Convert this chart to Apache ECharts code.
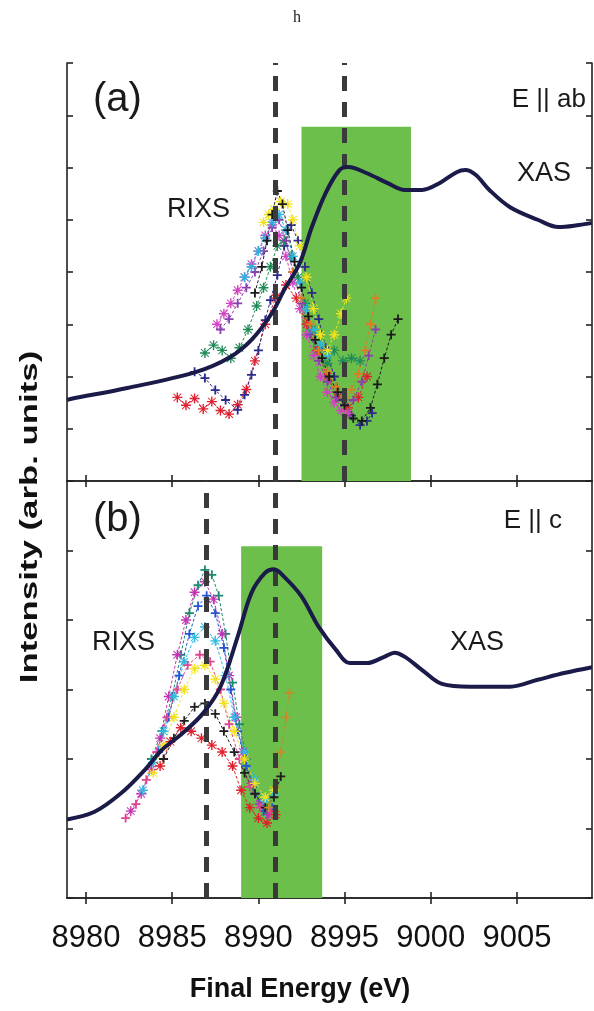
<!DOCTYPE html>
<html><head><meta charset="utf-8">
<script src="https://cdn.jsdelivr.net/npm/echarts@6/dist/echarts.min.js"></script>
<style>html,body{margin:0;padding:0;background:#fff}#c{width:594px;height:1011px}</style>
</head><body><div id="c"></div>
<script>
// ---------- DATA ----------
const xTicks = [8980, 8985, 8990, 8995, 9000, 9005];
const dashedA = [8991, 8995];
const dashedB = [8987, 8991];
const bandA = [8992.5, 8998.85, 6.78];
const bandB = [8989.0, 8993.7, 5.06];

// XAS (E || ab), panel a
const xasA = [[8978.9,1.55],[8979.1,1.57],[8982.4,1.78],[8986.4,2.09],[8988.35,2.37],[8989.6,2.70],[8990.8,3.22],[8991.5,3.66],[8992.4,4.17],[8993.1,4.86],[8993.9,5.51],[8994.7,5.95],[8995.2,6.01],[8996.3,5.89],[8997.5,5.70],[8998.5,5.57],[8999.5,5.57],[9000.5,5.70],[9001.5,5.91],[9002.0,5.95],[9002.6,5.86],[9003.4,5.57],[9004.6,5.24],[9006.2,5.00],[9007.4,4.86],[9008.6,4.90],[9009.35,4.94]];
// XAS (E || c), panel b
const xasB = [[8978.9,1.13],[8980.5,1.24],[8982.05,1.51],[8983.4,1.84],[8984.4,2.13],[8985.6,2.37],[8986.8,2.66],[8987.8,3.04],[8988.8,3.76],[8989.6,4.39],[8990.4,4.68],[8990.9,4.73],[8991.5,4.62],[8992.5,4.34],[8993.5,3.90],[8994.5,3.57],[8995.3,3.38],[8996.3,3.38],[8997.3,3.47],[8997.9,3.53],[8998.5,3.47],[8999.5,3.28],[9000.65,3.08],[9002.3,3.04],[9004.6,3.04],[9006.2,3.14],[9007.8,3.24],[9009.35,3.32]];

// RIXS traces, panel a
const rixsA_red = [[8985.3,1.60],[8985.8,1.45],[8986.3,1.58],[8986.8,1.38],[8987.3,1.52],[8987.8,1.35],[8988.3,1.28],[8988.8,1.46],[8989.3,1.75],[8989.8,2.3],[8990.4,3.0],[8991.0,3.5],[8991.6,3.75],[8992.2,3.5],[8992.8,3.0],[8993.4,2.5],[8994.0,2.0],[8994.6,1.6],[8995.2,1.4],[8995.8,1.6],[8996.3,2.0]];
const rixsA_navy = [[8986.3,2.09],[8986.9,1.97],[8987.5,1.74],[8988.1,1.55],[8988.8,1.36],[8989.2,1.65],[8989.6,2.03],[8990.0,2.5],[8990.4,3.08],[8990.7,3.46],[8991.1,3.94],[8991.5,4.5],[8991.9,4.9],[8992.3,4.6],[8992.7,4.1],[8993.1,3.6],[8993.5,3.1],[8993.9,2.55],[8994.4,2.0],[8994.9,1.55],[8995.4,1.25],[8995.9,1.07],[8996.3,1.15],[8996.6,1.3]];
const rixsA_green = [[8986.9,2.45],[8987.4,2.6],[8987.9,2.5],[8988.4,2.35],[8988.9,2.55],[8989.4,2.9],[8989.9,3.35],[8990.3,3.7],[8990.7,4.1],[8991.1,4.5],[8991.5,4.6],[8991.9,4.3],[8992.3,3.9],[8992.7,3.4],[8993.1,2.9],[8993.5,2.5],[8994.0,2.25],[8994.4,2.5],[8994.9,2.3],[8995.4,2.35],[8995.9,2.3]];
const rixsA_magenta = [[8987.6,3.0],[8988.0,3.2],[8988.4,3.4],[8988.8,3.65],[8989.2,3.9],[8989.6,4.15],[8990.0,4.4],[8990.4,4.7],[8990.8,4.9],[8991.2,4.7],[8991.6,4.3],[8992.0,3.8],[8992.4,3.3],[8992.8,2.8],[8993.2,2.4],[8993.6,2.0],[8994.0,1.7],[8994.4,1.5],[8994.8,1.35],[8995.2,1.3]];
const rixsA_purple = [[8987.8,2.9],[8988.3,3.1],[8988.8,3.4],[8989.3,3.7],[8989.8,4.0],[8990.3,4.4],[8990.8,4.85],[8991.2,5.0],[8991.6,4.6],[8992.0,4.0],[8992.5,3.4],[8993.0,2.8],[8993.5,2.3],[8994.0,1.9],[8994.5,1.6],[8995.0,1.45],[8995.5,1.55],[8996.0,1.9],[8996.4,2.4],[8996.8,2.9]];
const rixsA_cyan = [[8989.2,3.9],[8989.6,4.1],[8990.0,4.4],[8990.4,4.65],[8990.8,4.95],[8991.2,5.1],[8991.6,4.8],[8992.0,4.3],[8992.4,3.8],[8992.8,3.3],[8993.2,2.9],[8993.6,2.6],[8994.0,2.4]];
const rixsA_yellow = [[8990.3,4.95],[8990.6,5.1],[8990.9,5.2],[8991.3,5.35],[8991.7,5.3],[8992.0,5.0],[8992.4,4.5],[8992.8,3.9],[8993.2,3.3],[8993.6,2.8],[8994.0,2.5],[8994.4,2.8],[8994.8,3.2],[8995.1,3.5]];
const rixsA_black = [[8989.8,3.6],[8990.2,4.1],[8990.5,4.6],[8990.8,5.1],[8991.1,5.55],[8991.4,5.3],[8991.7,4.8],[8992.1,4.2],[8992.5,3.7],[8992.9,3.15],[8993.3,2.7],[8993.7,2.35],[8994.1,2.0],[8994.6,1.7],[8995.0,1.45],[8995.5,1.2],[8996.0,1.15],[8996.5,1.4],[8996.9,1.85],[8997.3,2.35],[8997.7,2.8],[8998.1,3.1]];
const rixsA_orange = [[8992.0,4.0],[8992.5,3.5],[8993.0,3.0],[8993.5,2.5],[8994.0,2.1],[8994.5,1.8],[8995.0,1.6],[8995.4,1.75],[8995.8,2.05],[8996.2,2.5],[8996.5,3.0],[8996.8,3.5]];

// RIXS traces, panel b
const rixsB_teal = [[8983.8,2.0],[8984.4,2.4],[8985.0,2.9],[8985.5,3.5],[8986.0,4.1],[8986.5,4.5],[8986.9,4.72],[8987.3,4.65],[8987.7,4.35],[8988.1,3.8],[8988.5,3.1],[8988.9,2.5],[8989.3,2.0],[8989.7,1.6],[8990.1,1.35],[8990.5,1.22]];
const rixsB_magenta = [[8982.6,1.25],[8983.2,1.5],[8983.8,1.85],[8984.3,2.3],[8984.8,2.9],[8985.3,3.5],[8985.8,4.0],[8986.3,4.4],[8986.9,4.55],[8987.4,4.3],[8987.9,3.8],[8988.3,3.2],[8988.7,2.6],[8989.1,2.1],[8989.6,1.65],[8990.1,1.35],[8990.6,1.2]];
const rixsB_blue = [[8984.2,2.1],[8984.8,2.6],[8985.4,3.2],[8986.0,3.8],[8986.5,4.2],[8987.0,4.35],[8987.5,4.1],[8988.0,3.6],[8988.4,3.0],[8988.8,2.4],[8989.3,1.9],[8989.8,1.5],[8990.3,1.25],[8990.8,1.3]];
const rixsB_cyan = [[8983.3,1.55],[8983.9,1.95],[8984.5,2.4],[8985.1,2.9],[8985.7,3.4],[8986.3,3.75],[8986.9,3.9],[8987.5,3.7],[8988.1,3.2],[8988.6,2.6],[8989.2,2.1],[8989.8,1.7],[8990.4,1.4],[8990.9,1.5]];
const rixsB_pink = [[8982.3,1.15],[8982.9,1.35],[8983.5,1.7],[8984.1,2.1],[8984.7,2.6],[8985.3,3.0],[8985.9,3.35],[8986.6,3.5],[8987.2,3.4],[8987.8,3.0],[8988.3,2.5],[8988.9,2.0],[8989.5,1.6],[8990.1,1.3],[8990.7,1.25]];
const rixsB_yellow = [[8983.9,1.8],[8984.5,2.2],[8985.1,2.6],[8985.7,3.0],[8986.3,3.3],[8986.9,3.35],[8987.5,3.15],[8988.0,2.8],[8988.6,2.4],[8989.2,2.0],[8989.8,1.65],[8990.4,1.45],[8990.9,1.55]];
const rixsB_black = [[8984.5,2.0],[8985.1,2.3],[8985.7,2.55],[8986.3,2.75],[8986.9,2.8],[8987.5,2.65],[8988.0,2.4],[8988.6,2.1],[8989.2,1.8],[8989.8,1.5],[8990.4,1.3],[8990.9,1.45],[8991.3,1.75]];
const rixsB_red = [[8984.3,1.9],[8984.9,2.25],[8985.5,2.45],[8986.1,2.4],[8986.7,2.3],[8987.3,2.2],[8987.9,2.1],[8988.5,1.9],[8989.0,1.55],[8989.5,1.3],[8990.0,1.15],[8990.5,1.08],[8991.0,1.2]];
const rixsB_orange = [[8990.6,1.3],[8991.0,1.6],[8991.3,2.1],[8991.6,2.6],[8991.8,2.95]];

// ---------- CHART ----------
const PLUS = 'path://M4,0H6V10H4Z M0,4H10V6H0Z';
const STAR = 'path://M4.3,0H5.7V10H4.3Z M0,4.3H10V5.7H0Z M1.5,0.8L9.2,8.5L8.5,9.2L0.8,1.5Z M8.5,0.8L9.2,1.5L1.5,9.2L0.8,8.5Z';

function rixs(data, color, sym, g) {
  return {
    type: 'line', xAxisIndex: g, yAxisIndex: g, data: data,
    symbol: sym === '+' ? PLUS : STAR, symbolSize: sym === '+' ? 9 : 10,
    showSymbol: true, z: 3,
    itemStyle: { color: color },
    lineStyle: { color: color, width: 1, type: [3, 2] },
    silent: true
  };
}

const chart = echarts.init(document.getElementById('c'), null, { renderer: 'canvas' });
const frame = { show: true, lineStyle: { color: '#222', width: 1.6 } };
const tickIn = (show) => ({ show: show, inside: true, length: 6, lineStyle: { color: '#222', width: 1.6 } });
const xBase = { type: 'value', min: 8978.9, max: 9009.35, splitLine: { show: false }, axisLine: frame };

const option = {
  animation: false,
  backgroundColor: '#fff',
  grid: [
    { left: 67, right: 2, top: 63, height: 418 },
    { left: 67, right: 2, top: 481, height: 417 }
  ],
  xAxis: [
    Object.assign({}, xBase, { gridIndex: 0, position: 'bottom', axisTick: Object.assign(tickIn(true), { customValues: xTicks }), axisLabel: { show: false } }),
    Object.assign({}, xBase, { gridIndex: 1, position: 'bottom', axisTick: Object.assign(tickIn(true), { customValues: xTicks }),
      axisLabel: { show: true, customValues: xTicks, formatter: v => String(v), fontFamily: 'Liberation Sans', fontSize: 31, color: '#111', margin: 25 } }),
    Object.assign({}, xBase, { gridIndex: 0, position: 'top', axisTick: Object.assign(tickIn(true), { customValues: xTicks }), axisLabel: { show: false } }),
    Object.assign({}, xBase, { gridIndex: 1, position: 'top', axisTick: Object.assign(tickIn(true), { customValues: xTicks }), axisLabel: { show: false } })
  ],
  yAxis: [
    { type: 'value', gridIndex: 0, min: 0, max: 8, interval: 1, position: 'left', axisLine: frame, axisTick: tickIn(true), axisLabel: { show: false }, splitLine: { show: false } },
    { type: 'value', gridIndex: 1, min: 0, max: 6, interval: 1, position: 'left', axisLine: frame, axisTick: tickIn(true), axisLabel: { show: false }, splitLine: { show: false } },
    { type: 'value', gridIndex: 0, min: 0, max: 8, interval: 1, position: 'right', axisLine: frame, axisTick: tickIn(true), axisLabel: { show: false }, splitLine: { show: false } },
    { type: 'value', gridIndex: 1, min: 0, max: 6, interval: 1, position: 'right', axisLine: frame, axisTick: tickIn(true), axisLabel: { show: false }, splitLine: { show: false } }
  ],
  series: [
    { type: 'line', xAxisIndex: 0, yAxisIndex: 0, data: [], z: 1, silent: true,
      markArea: { silent: true, itemStyle: { color: '#6cbf4a', opacity: 1 }, data: [[{ xAxis: bandA[0], yAxis: 0 }, { xAxis: bandA[1], yAxis: bandA[2] }]] } },
    { type: 'line', xAxisIndex: 1, yAxisIndex: 1, data: [], z: 1, silent: true,
      markArea: { silent: true, itemStyle: { color: '#6cbf4a', opacity: 1 }, data: [[{ xAxis: bandB[0], yAxis: 0 }, { xAxis: bandB[1], yAxis: bandB[2] }]] } },
    { type: 'line', xAxisIndex: 0, yAxisIndex: 0, data: [], z: 2, silent: true,
      markLine: { silent: true, symbol: 'none', label: { show: false }, lineStyle: { color: '#3a3a3a', width: 5, type: [15, 11] }, data: dashedA.map(v => ({ xAxis: v })) } },
    { type: 'line', xAxisIndex: 1, yAxisIndex: 1, data: [], z: 2, silent: true,
      markLine: { silent: true, symbol: 'none', label: { show: false }, lineStyle: { color: '#3a3a3a', width: 5, type: [15, 11] }, data: dashedB.map(v => ({ xAxis: v })) } },

    rixs(rixsA_red, '#e0202e', '*', 0),
    rixs(rixsA_navy, '#2b2b8c', '+', 0),
    rixs(rixsA_green, '#1f8a58', '*', 0),
    rixs(rixsA_magenta, '#d442c4', '*', 0),
    rixs(rixsA_purple, '#8a3fb0', '+', 0),
    rixs(rixsA_cyan, '#2fb2dc', '*', 0),
    rixs(rixsA_yellow, '#f2e21e', '*', 0),
    rixs(rixsA_orange, '#e27a22', '+', 0),
    rixs(rixsA_black, '#1a1a1a', '+', 0),

    rixs(rixsB_teal, '#1a8a70', '+', 1),
    rixs(rixsB_magenta, '#c232b2', '*', 1),
    rixs(rixsB_blue, '#2456d2', '+', 1),
    rixs(rixsB_cyan, '#31bae2', '*', 1),
    rixs(rixsB_pink, '#e04592', '+', 1),
    rixs(rixsB_yellow, '#f2e21e', '*', 1),
    rixs(rixsB_black, '#1e1e1e', '+', 1),
    rixs(rixsB_red, '#e0202a', '*', 1),
    rixs(rixsB_orange, '#c98a2a', '+', 1),

    { type: 'line', xAxisIndex: 0, yAxisIndex: 0, data: xasA, smooth: 0.35, showSymbol: false, z: 5, silent: true,
      lineStyle: { color: '#1b1b4a', width: 4 } },
    { type: 'line', xAxisIndex: 1, yAxisIndex: 1, data: xasB, smooth: 0.35, showSymbol: false, z: 5, silent: true,
      lineStyle: { color: '#1b1b4a', width: 4 } }
  ],
  graphic: [
    { type: 'text', left: 'center', top: 10, style: { text: 'h', font: '16px "Liberation Serif"', fill: '#222' } },
    { type: 'text', x: 30, y: 517, rotation: Math.PI / 2, scaleX: 1.45, style: { text: 'Intensity (arb. units)', font: 'bold 24px "Liberation Sans"', fill: '#111', align: 'center', verticalAlign: 'middle' } },
    { type: 'text', x: 300, y: 990, style: { text: 'Final Energy (eV)', font: 'bold 27px "Liberation Sans"', fill: '#111', align: 'center', verticalAlign: 'middle' } },
    { type: 'text', x: 93, y: 80, style: { text: '(a)', font: '40px "Liberation Sans"', fill: '#1a1a1a' } },
    { type: 'text', x: 586, y: 100, style: { text: 'E || ab', font: '26px "Liberation Sans"', fill: '#1a1a1a', align: 'right', verticalAlign: 'middle' } },
    { type: 'text', x: 167, y: 210, style: { text: 'RIXS', font: '27px "Liberation Sans"', fill: '#1a1a1a', verticalAlign: 'middle' } },
    { type: 'text', x: 517, y: 174, style: { text: 'XAS', font: '27px "Liberation Sans"', fill: '#1a1a1a', verticalAlign: 'middle' } },
    { type: 'text', x: 93, y: 500, style: { text: '(b)', font: '40px "Liberation Sans"', fill: '#1a1a1a' } },
    { type: 'text', x: 562, y: 521, style: { text: 'E || c', font: '26px "Liberation Sans"', fill: '#1a1a1a', align: 'right', verticalAlign: 'middle' } },
    { type: 'text', x: 92, y: 643, style: { text: 'RIXS', font: '27px "Liberation Sans"', fill: '#1a1a1a', verticalAlign: 'middle' } },
    { type: 'text', x: 450, y: 643, style: { text: 'XAS', font: '27px "Liberation Sans"', fill: '#1a1a1a', verticalAlign: 'middle' } }
  ]
};
chart.setOption(option);
</script>
</body></html>
